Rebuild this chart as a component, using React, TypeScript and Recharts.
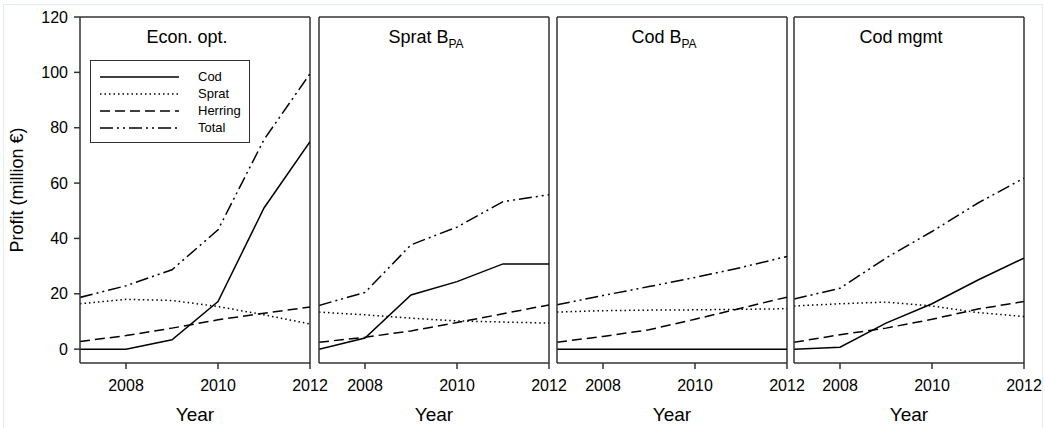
import React from 'react';
import { Line, LineChart, XAxis, YAxis, ReferenceLine, Legend } from 'recharts';

const years = [2007, 2008, 2009, 2010, 2011, 2012];
const yTicks = [0, 20, 40, 60, 80, 100, 120];
const xTicks = [2008, 2010, 2012];

// Econ. opt.
const econCod = [0, 0, 3.4, 17.2, 51, 75];
const econSprat = [16.4, 18, 17.6, 15.4, 12.4, 9.1];
const econHerring = [2.8, 4.9, 7.6, 10.6, 13, 15.2];
const econTotal = [18.7, 22.9, 28.7, 43.1, 75.7, 99.5];

// Sprat B_PA
const spratCod = [0, 4, 19.6, 24.4, 30.8, 30.8];
const spratSprat = [13.4, 12.4, 11.2, 10.2, 9.8, 9.4];
const spratHerring = [2.5, 4.3, 6.6, 9.6, 12.8, 16];
const spratTotal = [15.8, 20.5, 37.7, 44.1, 53.3, 55.8];

// Cod B_PA
const codCod = [0, 0, 0, 0, 0, 0];
const codSprat = [13.4, 13.9, 14.1, 14.2, 14.4, 14.6];
const codHerring = [2.5, 4.6, 7, 10.8, 14.8, 18.8];
const codTotal = [16, 19.4, 22.6, 25.9, 29.5, 33.5];

// Cod mgmt
const mgmtCod = [0, 0.7, 9.4, 16.4, 25, 32.9];
const mgmtSprat = [15.6, 16.4, 17, 15.6, 13.2, 11.8];
const mgmtHerring = [2.5, 5.2, 7.6, 10.8, 14.5, 17.2];
const mgmtTotal = [18.1, 22, 32.9, 42.5, 52.8, 61.8];

const buildRows = (cod: number[], sprat: number[], herring: number[], total: number[]) =>
  years.map((year, i) => ({ year, cod: cod[i], sprat: sprat[i], herring: herring[i], total: total[i] }));

const series = [
  { key: 'cod', name: 'Cod', dash: undefined },
  { key: 'sprat', name: 'Sprat', dash: '1.5 3' },
  { key: 'herring', name: 'Herring', dash: '10 5' },
  { key: 'total', name: 'Total', dash: '13 4 2 4 2 4' },
];

const FONT = 'Arial, "Liberation Sans", sans-serif';
const AXIS = '#333';

const renderLegend = () => (
  <div
    style={{
      width: 160,
      height: 83,
      border: '1px solid #333',
      background: '#fff',
      boxSizing: 'border-box',
      fontFamily: FONT,
      fontSize: 13,
      color: '#000',
    }}
  >
    {series.map((s, i) => (
      <div key={s.key} style={{ position: 'absolute', left: 0, top: 8 + i * 17, height: 17, width: 160 }}>
        <svg width={100} height={17} style={{ position: 'absolute', left: 0, top: 0 }}>
          <line x1={10} x2={89} y1={9} y2={9} stroke="#000" strokeWidth={1.5} strokeDasharray={s.dash} />
        </svg>
        <span style={{ position: 'absolute', left: 108, top: 1, lineHeight: '15px' }}>{s.name}</span>
      </div>
    ))}
  </div>
);

interface PanelProps {
  rows: any[];
  left: number;
  width: number;
  marginLeft: number;
  marginRight: number;
  title: React.ReactNode;
  first?: boolean;
}

const Panel: React.FC<PanelProps> = ({ rows, left, width, marginLeft, marginRight, title, first }) => {
  const plotLeft = left + marginLeft + (first ? 80 : 10);
  const plotWidth = width - marginLeft - marginRight - (first ? 80 : 10);
  return (
    <>
      <div style={{ position: 'absolute', left, top: 0 }}>
        <LineChart
          width={width}
          height={428}
          data={rows}
          margin={{ top: 17, right: marginRight, left: marginLeft, bottom: 0 }}
        >
          <XAxis
            dataKey="year"
            type="number"
            domain={[2007, 2012]}
            ticks={xTicks}
            allowDataOverflow
            height={65}
            stroke={AXIS}
            strokeWidth={1.5}
            tickSize={6}
            tickMargin={11}
            tick={{ fill: '#000', fontSize: 16, fontFamily: FONT }}
            label={{ value: 'Year', position: 'insideBottom', offset: 7, fill: '#000', fontSize: 19, fontFamily: FONT }}
          />
          <YAxis
            type="number"
            domain={[-5, 120]}
            ticks={yTicks}
            allowDataOverflow
            width={first ? 80 : 10}
            stroke={AXIS}
            strokeWidth={1.5}
            tickSize={6}
            tickMargin={6}
            tick={first ? { fill: '#000', fontSize: 16, fontFamily: FONT } : false}
            label={
              first
                ? {
                    value: 'Profit (million €)',
                    angle: -90,
                    position: 'insideLeft',
                    offset: 17,
                    fill: '#000',
                    fontSize: 18,
                    fontFamily: FONT,
                    style: { textAnchor: 'middle' },
                  }
                : undefined
            }
          />
          <ReferenceLine y={120} stroke={AXIS} strokeWidth={1.5} />
          <ReferenceLine x={2012} stroke={AXIS} strokeWidth={1.5} />
          {first && (
            <Legend
              layout="vertical"
              align="center"
              verticalAlign="middle"
              content={renderLegend}
              wrapperStyle={{ position: 'absolute', left: 90, top: 60, width: 160, height: 83 }}
            />
          )}
          {series.map((s) => (
            <Line
              key={s.key}
              type="linear"
              dataKey={s.key}
              name={s.name}
              stroke="#000"
              strokeWidth={1.5}
              strokeDasharray={s.dash}
              dot={false}
              activeDot={false}
              isAnimationActive={false}
            />
          ))}
        </LineChart>
      </div>
      <div
        style={{
          position: 'absolute',
          left: plotLeft - 8,
          width: plotWidth,
          top: 27,
          height: 20,
          lineHeight: '20px',
          textAlign: 'center',
          fontFamily: FONT,
          fontSize: 18,
          color: '#000',
        }}
      >
        {title}
      </div>
    </>
  );
};

const Sub: React.FC<{ children: React.ReactNode }> = ({ children }) => (
  <sub style={{ fontSize: 12, verticalAlign: -5 }}>{children}</sub>
);

const App: React.FC = () => {
  return (
    <div
      style={{
        position: 'absolute',
        left: 0,
        top: 0,
        width: 1045,
        height: 428,
        background: '#fff',
        overflow: 'hidden',
      }}
    >
      <div
        style={{
          position: 'absolute',
          left: 3,
          top: 4,
          width: 1038,
          height: 430,
          border: '1px solid #e4ebf3',
        }}
      />
      <Panel rows={buildRows(econCod, econSprat, econHerring, econTotal)} left={0} width={330} marginLeft={0} marginRight={20} title="Econ. opt." first />
      <Panel rows={buildRows(spratCod, spratSprat, spratHerring, spratTotal)} left={300} width={270} marginLeft={9} marginRight={21} title={<>Sprat B<Sub>PA</Sub></>} />
      <Panel rows={buildRows(codCod, codSprat, codHerring, codTotal)} left={537} width={270} marginLeft={10} marginRight={20} title={<>Cod B<Sub>PA</Sub></>} />
      <Panel rows={buildRows(mgmtCod, mgmtSprat, mgmtHerring, mgmtTotal)} left={774} width={271} marginLeft={10} marginRight={21} title="Cod mgmt" />
    </div>
  );
};

export default App;
